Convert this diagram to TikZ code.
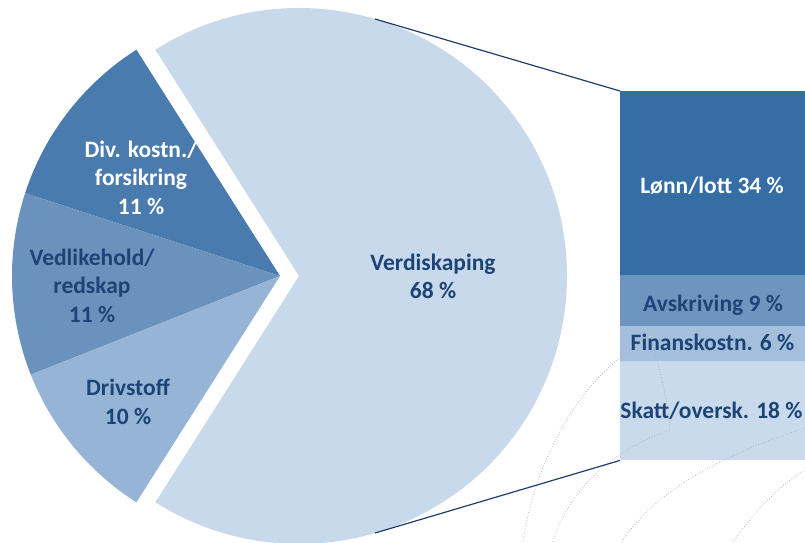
\documentclass[tikz,border=0pt]{standalone}
\usepackage{fontspec}
\setmainfont{Carlito}
\definecolor{divc}{HTML}{4A7BAE}
\definecolor{vedc}{HTML}{6B92BD}
\definecolor{drvc}{HTML}{96B4D6}
\definecolor{verc}{HTML}{C8D9EB}
\definecolor{lonc}{HTML}{356DA5}
\definecolor{avsc}{HTML}{6E95BF}
\definecolor{finc}{HTML}{A4BFDC}
\definecolor{skac}{HTML}{C9DAEC}
\definecolor{txt}{HTML}{1D4477}
\definecolor{linec}{HTML}{1F3F6B}
\definecolor{dotc}{HTML}{A8A8A8}
\begin{document}
\begin{tikzpicture}[x=1pt,y=-1pt,
  lbl/.style={font=\fontsize{23.5}{28.5}\selectfont\bfseries, text=txt, align=center, inner sep=0pt},
  seg/.style={draw=none, minimum width=185pt, inner sep=0pt, anchor=north west},
  conn/.style={draw=linec, line width=1.2pt},
  bgdots/.style={draw=dotc, dotted, line width=0.7pt}]
\useasboundingbox (0,0) rectangle (805,542);
\fill[white] (0,0) rectangle (805,542);

% pie slices
\coordinate (c) at (280,276);
\coordinate (cv) at (299,276);
\fill[divc] (c) -- ++(237.6:268) arc[start angle=237.6, end angle=198, radius=268] -- cycle;
\fill[vedc] (c) -- ++(198:268) arc[start angle=198, end angle=158.4, radius=268] -- cycle;
\fill[drvc] (c) -- ++(158.4:268) arc[start angle=158.4, end angle=122.4, radius=268] -- cycle;
\fill[verc] (cv) -- ++(-122.4:268) arc[start angle=-122.4, end angle=122.4, radius=268] -- cycle;

% bar of pie
\node[seg, fill=lonc, minimum height=184pt] (lonn) at (620,91) {};
\node[seg, fill=avsc, minimum height=51pt] (avs) at (620,275) {};
\node[seg, fill=finc, minimum height=35pt] (fin) at (620,326) {};
\node[seg, fill=skac, minimum height=99pt] (skatt) at (620,361) {};

% decorative dotted arcs
\draw[bgdots] (523,542) .. controls (535,460) and (580,375) .. (650,338);
\draw[bgdots] (650,338) .. controls (660,370) and (668,400) .. (670,430);
\draw[bgdots] (670,430) .. controls (640,440) and (575,470) .. (553,542);
\draw[bgdots] (622,542) .. controls (650,495) and (720,455) .. (805,428);
\draw[bgdots] (733,542) .. controls (755,510) and (780,485) .. (805,470);

% connectors
\coordinate (ptop) at (375,19);
\coordinate (pbot) at (375,533);
\draw[conn] (ptop) -- (lonn.north west);
\draw[conn] (pbot) -- (skatt.south west);

% labels
\node[lbl, text=white] (ldiv) at (141,177.5) {Div. kostn./\\forsikring\\11 \%};
\node[lbl] (lved) at (92,285.5) {Vedlikehold/\\redskap\\11 \%};
\node[lbl] (ldrv) at (128,402) {Drivstoff\\10 \%};
\node[lbl] (lver) at (433,276.5) {Verdiskaping\\68 \%};
\node[lbl, text=white, anchor=base] (tlonn) at (712,193) {Lønn/lott 34 \%};
\node[lbl, anchor=base] (tavs) at (713,311.5) {Avskriving 9 \%};
\node[lbl, anchor=base] (tfin) at (712.5,350) {Finanskostn. 6 \%};
\node[lbl, anchor=base] (tska) at (711.5,418) {Skatt/oversk. 18 \%};
\end{tikzpicture}
\end{document}
